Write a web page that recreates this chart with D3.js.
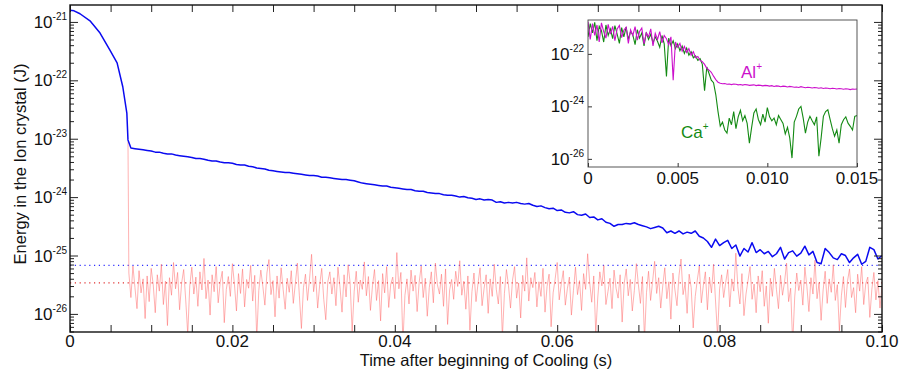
<!DOCTYPE html>
<html>
<head>
<meta charset="utf-8">
<script src="https://cdn.jsdelivr.net/npm/d3@7"></script>
<style>
  body { margin: 0; background: #fff; }
  text { font-family: "Liberation Sans", Arial, Helvetica, sans-serif; fill: #111; }
</style>
</head>
<body>
<svg id="chart" width="908" height="374"></svg>
<script>
// ---- data (energies stored as log10 exponents, J) ----
// total energy, smooth part before the kink
const blueEarlyTime = [0, 0.0005, 0.00123, 0.00246, 0.0037, 0.0049, 0.0058, 0.0065, 0.0070, 0.00714];
const blueEarlyExp  = [-20.80, -20.81, -20.86, -20.98, -21.19, -21.48, -21.70, -22.11, -22.56, -23.02];

// total energy after the kink, one sample every 0.5 ms from 7.5 ms
const blueStart = 0.0075, blueStep = 0.0005;
const blueExp = [
  -23.16,-23.17,-23.18,-23.19,-23.20,-23.21,-23.23,-23.23,-23.25,-23.26,
  -23.26,-23.28,-23.29,-23.30,-23.31,-23.32,-23.34,-23.34,-23.35,-23.37,
  -23.38,-23.38,-23.40,-23.41,-23.41,-23.42,-23.44,-23.45,-23.45,-23.47,
  -23.48,-23.50,-23.51,-23.52,-23.54,-23.55,-23.56,-23.57,-23.58,-23.58,
  -23.59,-23.60,-23.61,-23.62,-23.63,-23.63,-23.64,-23.66,-23.66,-23.67,
  -23.68,-23.69,-23.70,-23.70,-23.71,-23.72,-23.74,-23.76,-23.77,-23.78,
  -23.79,-23.80,-23.81,-23.81,-23.83,-23.84,-23.85,-23.86,-23.87,-23.87,
  -23.89,-23.90,-23.90,-23.92,-23.93,-23.94,-23.94,-23.96,-23.97,-23.97,
  -23.98,-24.00,-23.99,-24.01,-24.02,-24.04,-24.03,-24.05,-24.04,-24.05,
  -24.09,-24.08,-24.10,-24.09,-24.10,-24.09,-24.11,-24.12,-24.11,-24.14,
  -24.16,-24.15,-24.18,-24.20,-24.19,-24.23,-24.22,-24.26,-24.27,-24.25,
  -24.30,-24.31,-24.29,-24.35,-24.34,-24.39,-24.37,-24.43,-24.45,-24.50,
  -24.47,-24.47,-24.45,-24.46,-24.44,-24.47,-24.49,-24.51,-24.54,-24.52,
  -24.50,-24.53,-24.61,-24.58,-24.62,-24.58,-24.63,-24.60,-24.62,-24.58,
  -24.67,-24.70,-24.76,-24.86,-24.72,-24.83,-24.78,-24.74,-24.88,-24.82,
  -25.01,-24.88,-24.94,-24.78,-24.95,-24.90,-24.97,-24.93,-25.02,-24.97,
  -24.86,-25.06,-24.95,-24.92,-25.01,-24.96,-24.84,-24.99,-24.93,-25.12,
  -25.14,-24.88,-24.95,-25.04,-25.07,-24.97,-25.00,-25.12,-25.04,-24.98,
  -25.15,-25.10,-24.86,-24.90,-25.06,-25.00
];

// residual (light red) trace: drop from the kink, then one sample every 0.25 ms
const residualLeadTime = [0.00714];
const residualLeadExp  = [-23.05];
const residualStart = 0.00725, residualStep = 0.00025;
const residualExp = [
  -25.30,-25.72,-25.18,-25.55,-25.91,-25.26,-25.64,-25.40,-26.08,-25.35,-25.79,-25.22,-25.50,-25.98,-25.33,-25.61,-25.15,-25.84,-25.44,-26.20,
  -25.38,-25.68,-25.12,-25.57,-25.29,-25.93,-25.47,-25.24,-25.76,-26.35,-25.52,-25.20,-25.66,-25.37,-25.87,-25.28,-25.59,-25.05,-25.74,-25.42,
  -26.02,-25.33,-25.62,-25.19,-25.81,-25.46,-25.27,-26.15,-25.58,-25.36,-25.70,-25.14,-25.49,-25.95,-25.31,-25.65,-25.23,-25.88,-25.41,-25.56,
  -25.17,-25.78,-25.34,-26.42,-25.60,-25.25,-25.53,-25.85,-25.30,-25.07,-25.67,-25.43,-26.05,-25.35,-25.73,-25.21,-25.58,-25.92,-25.39,-25.63,
  -25.26,-25.82,-25.48,-25.13,-25.69,-26.25,-25.55,-25.32,-25.77,-25.40,-24.98,-25.62,-25.35,-25.90,-25.50,-25.22,-25.75,-26.10,-25.45,-25.28,
  -25.66,-25.38,-25.86,-25.20,-25.54,-25.97,-25.33,-25.71,-25.16,-25.47,-26.30,-25.61,-25.27,-25.80,-25.42,-25.58,-25.11,-25.69,-25.36,-25.94,
  -25.52,-25.24,-25.77,-25.43,-26.12,-25.31,-25.64,-25.19,-25.89,-25.49,-25.37,-25.74,-24.95,-25.57,-25.29,-26.50,-25.68,-25.40,-25.83,-25.25,
  -25.61,-25.34,-25.96,-25.46,-25.18,-25.72,-25.39,-26.04,-25.55,-25.28,-25.81,-25.13,-25.50,-25.66,-25.32,-25.87,-25.23,-26.18,-25.59,-25.41,
  -25.75,-25.27,-25.53,-25.09,-25.68,-25.44,-25.92,-25.35,-26.28,-25.62,-25.30,-25.79,-25.48,-25.21,-25.86,-25.56,-25.33,-25.99,-25.40,-25.70,
  -25.15,-25.58,-25.83,-25.36,-26.40,-25.65,-25.24,-25.51,-25.90,-25.42,-25.19,-25.73,-25.47,-26.07,-25.34,-25.61,-25.04,-25.78,-25.38,-25.55,
  -25.29,-25.88,-25.45,-25.70,-25.22,-25.97,-25.53,-25.32,-26.22,-25.64,-25.40,-25.12,-25.76,-25.49,-25.26,-25.85,-25.57,-25.37,-26.02,-25.60,
  -25.20,-25.67,-25.43,-25.94,-25.31,-25.58,-24.97,-25.46,-25.80,-25.35,-26.33,-25.71,-25.28,-25.52,-25.17,-25.84,-25.62,-25.39,-25.91,-25.25,
  -25.56,-25.73,-25.33,-26.14,-25.48,-25.23,-25.69,-25.41,-25.95,-25.60,-25.14,-25.50,-25.82,-25.36,-26.45,-25.63,-25.27,-25.77,-25.44,-25.10,
  -25.65,-25.38,-25.90,-25.52,-25.21,-25.74,-25.45,-26.09,-25.30,-25.59,-25.86,-25.34,-25.06,-25.67,-25.48,-25.99,-25.32,-25.55,-26.24,-25.70,
  -25.42,-25.18,-25.81,-25.51,-25.28,-25.93,-25.37,-25.64,-25.15,-25.78,-26.38,-25.57,-25.33,-25.72,-25.46,-25.24,-25.88,-25.40,-25.61,-24.96,
  -25.54,-25.83,-25.31,-26.03,-25.66,-25.43,-25.19,-25.75,-25.49,-25.98,-25.35,-25.62,-25.26,-25.87,-25.52,-26.16,-25.39,-25.70,-25.22,-25.58,
  -25.91,-25.34,-25.68,-25.45,-25.13,-25.79,-25.56,-26.52,-25.71,-25.30,-25.60,-25.42,-25.85,-25.20,-25.53,-25.96,-25.38,-25.66,-25.08,-25.74,
  -25.47,-26.11,-25.59,-25.27,-25.82,-25.40,-25.63,-25.16,-25.77,-25.50,-26.29,-25.69,-25.36,-25.89,-25.44,-25.23,-25.72,-25.55,-25.98,-25.32,
  -25.61,-25.19,-25.84,-25.48,-25.37,-26.06,-25.58,-25.29,-25.76,-25.43,-25.90,-25.52
];

// reference levels (dotted)
const levelBlueExp = -25.17;
const levelRedExp = -25.47;

// inset: single ions, one sample every 0.125 ms
const ionStep = 0.000125;
const alExp = [
  -20.78,-21.45,-20.85,-21.30,-20.90,-21.55,-20.82,-21.15,-21.40,-20.88,
  -21.25,-20.95,-21.50,-21.05,-20.92,-21.38,-21.10,-20.98,-21.60,-21.08,
  -21.30,-20.96,-21.48,-21.15,-21.02,-21.62,-21.20,-21.35,-21.05,-21.70,
  -21.22,-21.45,-21.15,-21.58,-21.30,-21.42,-21.65,-21.35,-23.00,-21.55,
  -21.75,-21.60,-21.90,-21.72,-21.95,-21.80,-22.05,-21.92,-22.15,-22.10,
  -22.25,-22.30,-22.40,-22.55,-22.62,-22.70,-22.85,-22.98,-23.08,-23.12,
  -23.14,-23.13,-23.16,-23.15,-23.17,-23.15,-23.16,-23.18,-23.17,-23.19,
  -23.17,-23.18,-23.20,-23.19,-23.18,-23.21,-23.19,-23.20,-23.22,-23.20,
  -23.21,-23.23,-23.21,-23.24,-23.22,-23.23,-23.25,-23.23,-23.24,-23.26,
  -23.24,-23.25,-23.27,-23.26,-23.28,-23.25,-23.27,-23.29,-23.27,-23.28,
  -23.30,-23.28,-23.29,-23.31,-23.29,-23.32,-23.30,-23.31,-23.33,-23.31,
  -23.32,-23.34,-23.32,-23.33,-23.35,-23.33,-23.34,-23.36,-23.34,-23.35,-23.34
];
const caExp = [
  -21.35,-20.85,-21.20,-20.80,-21.50,-20.95,-21.12,-21.55,-20.90,-21.30,
  -21.05,-21.42,-20.92,-21.25,-21.60,-21.00,-21.35,-20.98,-21.45,-21.15,
  -21.28,-21.65,-21.08,-21.40,-21.20,-21.70,-21.18,-21.45,-21.25,-21.58,
  -21.35,-21.52,-21.75,-21.30,-21.62,-22.86,-21.40,-21.68,-21.50,-21.80,
  -21.62,-21.88,-21.70,-21.98,-21.78,-22.05,-21.92,-22.15,-22.08,-22.25,
  -22.18,-22.40,-23.40,-22.50,-22.75,-23.00,-23.10,-23.55,-24.20,-24.75,
  -24.60,-24.90,-25.02,-24.45,-24.70,-24.20,-24.85,-24.40,-24.15,-24.55,
  -24.35,-24.65,-25.40,-24.80,-24.25,-24.10,-24.50,-24.70,-24.30,-24.60,
  -24.05,-24.40,-24.55,-24.45,-24.70,-24.35,-24.50,-24.65,-25.05,-24.80,
  -25.20,-25.97,-24.60,-24.38,-24.10,-24.00,-24.45,-25.02,-24.60,-24.38,
  -24.55,-24.70,-24.40,-25.90,-25.20,-24.38,-24.20,-24.13,-24.50,-24.85,
  -25.14,-24.90,-25.40,-24.70,-24.51,-24.40,-24.64,-24.76,-24.90,-24.38,-24.35
];

// axes
const xTicks = [0,0.005,0.01,0.015,0.02,0.025,0.03,0.035,0.04,0.045,0.05,0.055,0.06,0.065,0.07,0.075,0.08,0.085,0.09,0.095,0.1];
const xLabelTicks = [0, 0.02, 0.04, 0.06, 0.08, 0.1];
const xLabels = ["0", "0.02", "0.04", "0.06", "0.08", "0.10"];
const yDecades = [-21, -22, -23, -24, -25, -26];
const insetXTicks = [0, 0.005, 0.01, 0.015];
const insetXLabels = ["0", "0.005", "0.010", "0.015"];
const insetYDecades = [-22, -24, -26];

// ---- drawing ----
const svg = d3.select('#chart');
const e10 = v => Math.pow(10, v);
const pL = 70, pR = 882, pT = 5, pB = 332;

const x = d3.scaleLinear().domain([0, 0.1]).range([pL, pR]);
const y = d3.scaleLog().domain([e10(-26.31), e10(-20.71)]).range([pB, pT]);

svg.append('clipPath').attr('id', 'plotClip')
  .append('rect').attr('x', pL).attr('y', pT).attr('width', pR - pL).attr('height', pB - pT);

const plot = svg.append('g').attr('clip-path', 'url(#plotClip)');
const line = d3.line().x(d => x(d[0])).y(d => y(e10(d[1])));

let bluePts = blueEarlyTime.map((t, i) => [t, blueEarlyExp[i]]);
blueExp.forEach((v, i) => bluePts.push([blueStart + i * blueStep, v]));

let residualPts = residualLeadTime.map((t, i) => [t, residualLeadExp[i]]);
residualExp.forEach((v, i) => residualPts.push([residualStart + i * residualStep, v]));

// dotted reference levels
plot.append('line')
  .attr('x1', pL).attr('x2', pR)
  .attr('y1', y(e10(levelBlueExp))).attr('y2', y(e10(levelBlueExp)))
  .attr('stroke', '#3030ff').attr('stroke-width', 1.2).attr('stroke-dasharray', '1.2,3.6');
plot.append('line')
  .attr('x1', pL).attr('x2', pR)
  .attr('y1', y(e10(levelRedExp))).attr('y2', y(e10(levelRedExp)))
  .attr('stroke', '#e03030').attr('stroke-width', 1.2).attr('stroke-dasharray', '1.2,3.6');

plot.append('path').datum(residualPts)
  .attr('d', line)
  .attr('fill', 'none')
  .attr('stroke', '#ff6a6a')
  .attr('stroke-opacity', 0.65)
  .attr('stroke-width', 0.8);

plot.append('path').datum(bluePts)
  .attr('d', line)
  .attr('fill', 'none')
  .attr('stroke', '#0a0af0')
  .attr('stroke-width', 1.5)
  .attr('stroke-linejoin', 'round');

// ticks (inward, on all four sides)
let minor = [];
for (let e = -27; e <= -21; e++) {
  for (let m = 2; m <= 9; m++) {
    const v = m * e10(e);
    if (v > y.domain()[0] && v < y.domain()[1]) minor.push(v);
  }
}
const majors = yDecades.map(e10);

svg.append('g').attr('transform', `translate(0,${pB})`)
  .call(d3.axisBottom(x).tickValues(xTicks).tickSize(-7).tickSizeOuter(0).tickFormat(''));
svg.append('g').attr('transform', `translate(0,${pT})`)
  .call(d3.axisTop(x).tickValues(xTicks).tickSize(-7).tickSizeOuter(0).tickFormat(''));
svg.append('g').attr('transform', `translate(${pL},0)`)
  .call(d3.axisLeft(y).tickValues(majors).tickSize(-8).tickSizeOuter(0).tickFormat(''));
svg.append('g').attr('transform', `translate(${pL},0)`)
  .call(d3.axisLeft(y).tickValues(minor).tickSize(-4).tickSizeOuter(0).tickFormat(''));
svg.append('g').attr('transform', `translate(${pR},0)`)
  .call(d3.axisRight(y).tickValues(majors).tickSize(-8).tickSizeOuter(0).tickFormat(''));
svg.append('g').attr('transform', `translate(${pR},0)`)
  .call(d3.axisRight(y).tickValues(minor).tickSize(-4).tickSizeOuter(0).tickFormat(''));
svg.selectAll('.domain').remove();
svg.selectAll('.tick line').attr('stroke', '#222').attr('stroke-width', 1);

svg.append('rect')
  .attr('x', pL).attr('y', pT).attr('width', pR - pL).attr('height', pB - pT)
  .attr('fill', 'none').attr('stroke', '#111').attr('stroke-width', 1.4);

// tick labels
svg.selectAll('.xlab').data(xLabelTicks).enter().append('text')
  .attr('x', d => x(d)).attr('y', 347)
  .attr('text-anchor', 'middle').attr('font-size', 17)
  .text((d, i) => xLabels[i]);

const ylab = svg.selectAll('.ylab').data(yDecades).enter().append('text')
  .attr('x', 67).attr('y', d => y(e10(d)) + 6)
  .attr('text-anchor', 'end').attr('font-size', 17);
ylab.append('tspan').text('10');
ylab.append('tspan').attr('dy', -8).attr('font-size', 10).text(d => String(d));

// axis titles
svg.append('text')
  .attr('x', 486).attr('y', 366)
  .attr('text-anchor', 'middle').attr('font-size', 16.5)
  .text('Time after beginning of Cooling (s)');
svg.append('text')
  .attr('transform', 'translate(26,164) rotate(-90)')
  .attr('text-anchor', 'middle').attr('font-size', 16.5)
  .text('Energy in the Ion crystal (J)');

// ---- inset ----
const iL = 588, iR = 857, iT = 20, iB = 167;
const xi = d3.scaleLinear().domain([0, 0.015]).range([iL, iR]);
const yi = d3.scaleLog().domain(y.domain()).range([iB, iT]);
const inset = svg.append('g');

inset.append('rect').attr('x', iL).attr('y', iT).attr('width', iR - iL).attr('height', iB - iT)
  .attr('fill', '#fff');
inset.append('clipPath').attr('id', 'insetClip')
  .append('rect').attr('x', iL).attr('y', iT).attr('width', iR - iL).attr('height', iB - iT);

const iline = d3.line().x(d => xi(d[0])).y(d => yi(e10(d[1])));
const insetPlot = inset.append('g').attr('clip-path', 'url(#insetClip)');
insetPlot.append('path').datum(caExp.map((v, i) => [i * ionStep, v]))
  .attr('d', iline).attr('fill', 'none')
  .attr('stroke', '#138a13').attr('stroke-width', 1.1);
insetPlot.append('path').datum(alExp.map((v, i) => [i * ionStep, v]))
  .attr('d', iline).attr('fill', 'none')
  .attr('stroke', '#cc10cc').attr('stroke-width', 1.1);

inset.append('g').attr('transform', `translate(0,${iB})`)
  .call(d3.axisBottom(xi).tickValues(insetXTicks).tickSize(-4).tickSizeOuter(0).tickFormat(''));
inset.append('g').attr('transform', `translate(${iL},0)`)
  .call(d3.axisLeft(yi).tickValues(insetYDecades.map(e10)).tickSize(-4).tickSizeOuter(0).tickFormat(''));
inset.selectAll('.domain').remove();
inset.selectAll('.tick line').attr('stroke', '#333');

inset.append('rect').attr('x', iL).attr('y', iT).attr('width', iR - iL).attr('height', iB - iT)
  .attr('fill', 'none').attr('stroke', '#444').attr('stroke-width', 0.9);

inset.selectAll('.ixlab').data(insetXTicks).enter().append('text')
  .attr('x', d => xi(d)).attr('y', 184)
  .attr('text-anchor', 'middle').attr('font-size', 17)
  .text((d, i) => insetXLabels[i]);

const iylab = inset.selectAll('.iylab').data(insetYDecades).enter().append('text')
  .attr('x', 584).attr('y', d => yi(e10(d)) + 6)
  .attr('text-anchor', 'end').attr('font-size', 17);
iylab.append('tspan').text('10');
iylab.append('tspan').attr('dy', -8).attr('font-size', 10).text(d => String(d));

const alLabel = inset.append('text').attr('x', 741).attr('y', 78)
  .attr('font-size', 17).style('fill', '#cc10cc');
alLabel.append('tspan').text('Al');
alLabel.append('tspan').attr('dy', -8).attr('font-size', 10).text('+');

const caLabel = inset.append('text').attr('x', 681).attr('y', 138)
  .attr('font-size', 17).style('fill', '#138a13');
caLabel.append('tspan').text('Ca');
caLabel.append('tspan').attr('dy', -8).attr('font-size', 10).text('+');
</script>
</body>
</html>
